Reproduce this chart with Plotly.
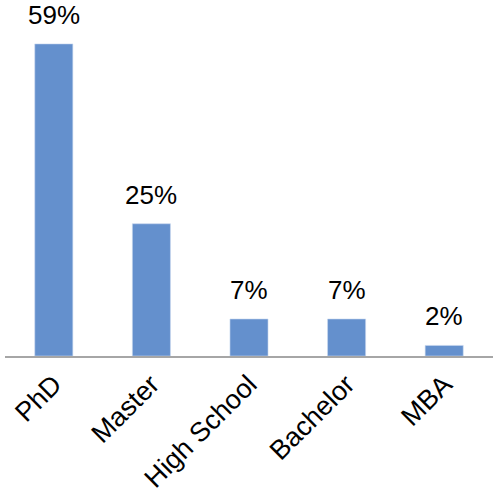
import plotly.graph_objects as go

# Highest degree held, share of respondents
degrees = ["PhD", "Master", "High School", "Bachelor", "MBA"]
shares = [59, 25, 7, 7, 2]
share_labels = ["59%", "25%", "7%", "7%", "2%"]

bar_color = "#6490cd"
font_family = "Liberation Sans, Arial, Helvetica, sans-serif"

fig = go.Figure(
    go.Bar(
        x=degrees,
        y=shares,
        marker=dict(color=bar_color, line=dict(color="#c9d8ee", width=0.6)),
        hoverinfo="skip",
    )
)

for d, v, lab in zip(degrees, shares, share_labels):
    fig.add_annotation(
        x=d, y=v, text=lab, showarrow=False,
        yanchor="bottom", yshift=12,
        font=dict(family=font_family, size=26, color="#000000"),
    )

fig.update_layout(
    width=493, height=493,
    margin=dict(l=5, r=0, t=0, b=135),
    paper_bgcolor="white", plot_bgcolor="white",
    bargap=0.61,
    showlegend=False,
    font=dict(family=font_family, size=26, color="#000000"),
)
fig.update_xaxes(
    showline=True, linecolor="#a6a6a6", linewidth=1.5,
    tickangle=-45, ticks="", showgrid=False,
    tickfont=dict(family=font_family, size=27, color="#000000"),
)
fig.update_yaxes(
    range=[0, 67.3], visible=False, showgrid=False, zeroline=False,
)

fig.write_html("out.html")
